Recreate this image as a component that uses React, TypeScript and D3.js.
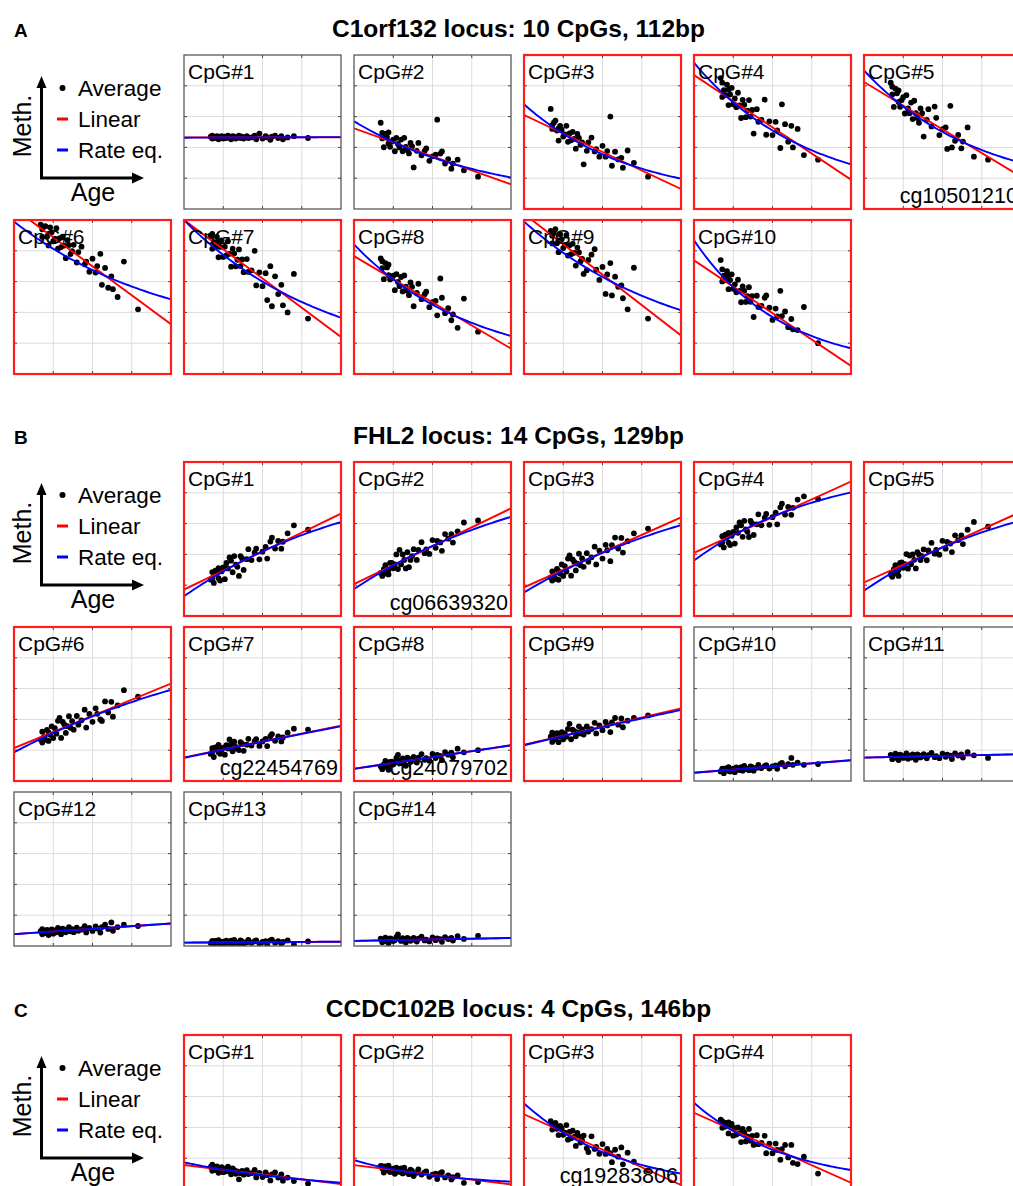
import React from "react";
import * as d3 from "d3";

// ---------- DATA ----------
// sample ages (years), shared by all CpG panels
const ages = [17, 18, 18, 19, 20, 21, 22, 22, 23, 24, 25, 26, 27, 28, 29, 30, 31, 32, 33, 34, 35, 36, 37, 38, 40, 41, 43, 45, 46, 48, 50, 52, 53, 55, 56, 58, 60, 62, 63, 66, 70, 79];
const xTicks = [25, 50, 75];
const yTicks = [0.2, 0.4, 0.6, 0.8];

// Section A: C1orf132
const methA1 = [.469, .457, .477, .465, .461, .473, .453, .469, .465, .473, .457, .469, .461, .477, .465, .453, .473, .469, .457, .465, .477, .461, .469, .457, .473, .461, .465, .477, .453, .49, .457, .473, .465, .449, .469, .477, .461, .473, .453, .465, .473, .461];
const methA2 = [.56, .494, .458, .401, .487, .466, .426, .498, .404, .437, .451, .375, .462, .422, .400, .451, .375, .462, .404, .382, .361, .429, .407, .27, .378, .429, .349, .378, .393, .313, .342, .353, .58, .360, .374, .295, .324, .262, .295, .320, .251, .21];
const methA3 = [.65, .544, .52, .56, .574, .509, .524, .444, .540, .515, .470, .485, .540, .436, .491, .446, .501, .456, .392, .487, .462, .417, .432, .29, .378, .433, .464, .374, .389, .340, .410, .340, .376, .60, .281, .372, .322, .332, .268, .38, .30, .21];
const methA4 = [.85, .728, .82, .771, .739, .807, .675, .775, .744, .787, .680, .718, .661, .755, .673, .591, .709, .677, .596, .639, .707, .600, .643, .49, .648, .566, .578, .71, .482, .569, .480, .566, .510, .396, .68, .551, .437, .54, .40, .52, .35, .32];
const methA5 = [.82, .794, .744, .663, .782, .751, .695, .77, .664, .707, .726, .620, .739, .653, .622, .691, .584, .703, .622, .591, .560, .654, .622, .47, .579, .648, .536, .665, .592, .480, .518, .530, .39, .67, .40, .443, .481, .394, .438, .53, .34, .32];
const methA6 = [.97, .940, .890, .957, .96, .892, .910, .835, .952, .920, .862, .879, .947, .814, .882, .824, .892, .834, .752, .869, .837, .779, .797, .839, .724, .792, .827, .712, .729, .664, .749, .659, .701, .78, .579, .689, .56, .634, .551, .50, .73, .42];
const methA7 = [.896, .813, .91, .856, .823, .890, .758, .858, .825, .868, .760, .827, .770, .862, .780, .697, .814, .782, .699, .742, .809, .701, .744, .661, .746, .663, .673, .80, .575, .660, .570, .655, .48, .70, .44, .634, .519, .579, .446, .40, .65, .36];
const methA8 = [.75, .732, .688, .616, .720, .692, .642, .71, .614, .622, .638, .544, .648, .598, .570, .630, .536, .640, .568, .540, .512, .594, .566, .44, .526, .586, .486, .518, .534, .434, .466, .475, .381, .62, .495, .395, .427, .349, .387, .30, .49, .275];
const methA9 = [.93, .898, .848, .915, .94, .849, .866, .791, .908, .875, .818, .835, .902, .769, .836, .778, .845, .787, .704, .821, .789, .731, .748, .65, .674, .741, .775, .81, .677, .611, .695, .52, .646, .72, .51, .632, .566, .575, .492, .42, .69, .36];
const methA10 = [.74, .601, .68, .638, .609, .668, .551, .639, .610, .647, .553, .582, .531, .612, .539, .466, .569, .540, .468, .505, .564, .469, .506, .37, .508, .435, .443, .495, .51, .431, .351, .425, .374, .54, .376, .406, .304, .357, .29, .285, .435, .20];
// linear fit: value at age 0 and age 100
const linA = [[.465, .465], [.524, .16], [.61, .13], [.87, .19], [.825, .21], [1.075, .323], [1.0, .24], [.766, .165], [1.04, .25], [.738, .052]];
// rate equation fit: value at age 0, 50 and 100
const rateA = [[.463, .465, .467], [.57, .335, .205], [.68, .355, .197], [.95, .51, .29], [.9, .50, .30], [.99, .675, .485], [1.0, .60, .366], [.842, .45, .247], [.99, .63, .414], [.868, .37, .167]];
const sigA = [false, false, true, true, true, true, true, true, true, true];

// Section B: FHL2
const methB1 = [.236, .285, .245, .215, .295, .280, .245, .31, .230, .290, .315, .239, .344, .309, .38, .359, .284, .389, .334, .319, .26, .389, .374, .299, .369, .434, .363, .413, .438, .368, .418, .448, .373, .483, .508, .438, .487, .437, .482, .537, .589, .56];
const methB2 = [.28, .281, .26, .305, .33, .275, .300, .27, .345, .345, .310, .335, .400, .305, .43, .335, .400, .364, .309, .414, .317, .364, .389, .434, .364, .429, .479, .408, .433, .403, .493, .443, .488, .478, .423, .532, .502, .532, .477, .55, .607, .62];
const methB3 = [.25, .23, .29, .257, .242, .306, .235, .291, .275, .335, .260, .324, .289, .373, .393, .262, .367, .351, .296, .340, .405, .329, .374, .319, .408, .352, .381, .450, .335, .424, .373, .462, .427, .356, .460, .509, .438, .507, .412, .486, .537, .568];
const methB4 = [.465, .518, .478, .445, .528, .512, .477, .54, .461, .521, .546, .470, .575, .540, .607, .589, .514, .618, .563, .547, .513, .617, .601, .526, .595, .660, .589, .638, .663, .592, .642, .671, .595, .705, .729, .659, .708, .657, .702, .756, .777, .76];
const methB5 = [.269, .281, .255, .305, .33, .274, .299, .26, .344, .348, .313, .337, .402, .307, .393, .336, .400, .365, .309, .414, .399, .363, .388, .432, .362, .426, .475, .405, .429, .398, .488, .437, .481, .470, .415, .524, .493, .523, .467, .56, .611, .58];
const methB6 = [.27, .25, .32, .284, .268, .332, .26, .316, .300, .355, .279, .343, .307, .391, .41, .280, .384, .368, .312, .356, .421, .345, .389, .333, .422, .366, .394, .463, .347, .435, .384, .472, .436, .40, .39, .517, .445, .514, .418, .491, .59, .548];
const methB7 = [.176, .214, .190, .156, .218, .208, .187, .235, .177, .203, .217, .171, .233, .211, .27, .239, .193, .255, .221, .211, .201, .252, .242, .196, .236, .274, .230, .258, .272, .228, .257, .273, .227, .291, .305, .261, .289, .257, .283, .314, .34, .334];
const methB8 = [.095, .097, .077, .108, .130, .091, .103, .073, .124, .126, .107, .119, .150, .17, .133, .115, .146, .128, .099, .151, .143, .124, .136, .157, .120, .152, .175, .138, .149, .132, .176, .149, .170, .163, .135, .188, .171, .184, .155, .21, .186, .200];
const methB9 = [.288, .254, .314, .281, .271, .310, .252, .300, .290, .317, .271, .309, .288, .338, .371, .271, .333, .324, .290, .316, .355, .309, .335, .302, .354, .321, .337, .378, .309, .361, .330, .383, .361, .318, .380, .409, .366, .406, .349, .392, .41, .426];
const methB10 = [.062, .081, .069, .051, .082, .077, .066, .090, .061, .073, .080, .057, .088, .077, .071, .090, .067, .098, .081, .076, .070, .095, .090, .067, .086, .105, .083, .096, .103, .081, .095, .102, .079, .111, .117, .095, .109, .15, .105, .119, .105, .11];
const methB11 = [.170, .156, .142, .163, .177, .150, .157, .136, .171, .164, .150, .158, .179, .144, .165, .152, .173, .159, .138, .173, .167, .153, .161, .175, .147, .168, .182, .155, .162, .148, .177, .157, .171, .164, .143, .179, .165, .173, .152, .187, .167, .15];
const methB12 = [.096, .076, .110, .090, .084, .105, .071, .099, .093, .107, .080, .102, .089, .117, .097, .077, .112, .106, .089, .100, .122, .095, .109, .090, .119, .099, .107, .129, .088, .117, .098, .127, .113, .087, .123, .138, .111, .153, .099, .123, .139, .13];
const methB13 = [.019, .033, .023, .009, .033, .028, .019, .038, .014, .024, .029, .010, .034, .024, .020, .035, .015, .040, .025, .020, .015, .036, .030, .011, .025, .040, .021, .031, .036, .016, .026, .031, .011, .036, .041, .021, .031, .016, .026, .036, .011, .03];
const methB14 = [.048, .036, .024, .042, .055, .031, .037, .019, .050, .044, .032, .038, .057, .075, .045, .033, .051, .039, .022, .052, .046, .034, .040, .053, .029, .047, .060, .036, .042, .030, .056, .038, .050, .044, .027, .057, .045, .052, .035, .064, .046, .066];
const linB = [[.171, .665], [.207, .699], [.186, .64], [.41, .873], [.218, .677], [.214, .633], [.153, .36], [.079, .232], [.236, .472], [.054, .135], [.152, .174], [.077, .146], [.022, .028], [.033, .052]];
const rateB = [[.128, .42, .61], [.175, .455, .644], [.153, .41, .59], [.36, .645, .803], [.164, .445, .62], [.186, .42, .592], [.15, .255, .355], [.079, .155, .232], [.232, .35, .461], [.054, .0945, .135], [.152, .163, .174], [.077, .1115, .146], [.022, .025, .028], [.033, .0425, .052]];
const sigB = [true, true, true, true, true, true, true, true, true, false, false, false, false, false];

// Section C: CCDC102B
const methC1 = [.143, .118, .158, .132, .123, .146, .105, .137, .127, .142, .109, .132, .115, .145, .120, .095, .134, .123, .099, .114, .063, .103, .118, .093, .122, .097, .103, .124, .075, .104, .078, .108, .090, .056, .095, .108, .074, .095, .054, .074, .052, .035];
const methC2 = [.15, .149, .133, .107, .146, .137, .120, .152, .110, .125, .132, .099, .138, .120, .111, .134, .101, .139, .114, .105, .096, .126, .117, .084, .105, .128, .094, .107, .114, .079, .093, .099, .065, .103, .110, .075, .089, .062, .077, .089, .04, .045];
const methC3 = [.44, .422, .386, .42, .43, .391, .404, .350, .41, .393, .352, .366, .415, .320, .370, .329, .379, .338, .280, .365, .342, .302, .315, .347, .265, .24, .342, .260, .274, .229, .292, .228, .260, .233, .174, .255, .210, .27, .160, .236, .177, .12];
const methC4 = [.45, .397, .44, .429, .406, .43, .361, .433, .411, .422, .346, .395, .354, .40, .363, .305, .390, .368, .309, .341, .390, .314, .345, .286, .349, .291, .300, .345, .232, .295, .232, .295, .254, .19, .259, .286, .205, .286, .17, .162, .21, .10];
const linC = [[.156, .032], [.155, .03], [.485, .026], [.495, .041]];
const rateC = [[.173, .09, .041], [.188, .088, .048], [.556, .24, .10], [.56, .255, .123]];
const sigC = [true, true, true, true];

const cgLabelsA: Record<number, string> = { 4: "cg10501210" };
const cgLabelsB: Record<number, string> = { 1: "cg06639320", 6: "cg22454769", 7: "cg24079702" };
const cgLabelsC: Record<number, string> = { 2: "cg19283806" };

const titles = ["C1orf132 locus: 10 CpGs, 112bp", "FHL2 locus: 14 CpGs, 129bp", "CCDC102B locus: 4 CpGs, 146bp"];
const letters = ["A", "B", "C"];
const legendItems = ["Average", "Linear", "Rate eq."];

// ---------- LAYOUT ----------
const W = 1013, H = 1186;
const PW = 157, PH = 154;
const COL0 = 14, COLSTEP = 170, ROWSTEP = 165;
const SECTION_TOPS = [55, 462, 1035];
const RED = "#ff0000", BLUE = "#0000ff", BORDER_RED = "#ff1c1c", BORDER_GRAY = "#5a5a5a";
const FONT = "'Liberation Sans', Arial, Helvetica, sans-serif";

function rateCurve(p: number[]) {
  const [v0, v1, v2] = p;
  const d1 = v1 - v0, d2 = v2 - v1;
  if (Math.abs(d1) < 1e-9 || Math.abs(d2 / d1 - 1) < 0.02) {
    return (t: number) => v0 + (v2 - v0) * t / 100;
  }
  const r = d2 / d1;
  const b = d1 / (r - 1);
  const a = v0 - b;
  return (t: number) => a + b * Math.pow(r, t / 50);
}

type PanelProps = {
  id: string; label: string; vals: number[]; lin: number[]; rate: number[];
  sig: boolean; cg?: string; x0: number; y0: number;
};

function Panel({ id, label, vals, lin, rate, sig, cg, x0, y0 }: PanelProps) {
  const x = d3.scaleLinear().domain([0, 100]).range([x0, x0 + PW]);
  const y = d3.scaleLinear().domain([0, 1]).range([y0 + PH, y0]);
  const f = rateCurve(rate);
  const line = d3.line<[number, number]>().x(d => x(d[0])).y(d => y(d[1]));
  const redPath = line([[0, lin[0]], [100, lin[1]]]) || "";
  const bluePts: [number, number][] = d3.range(0, 100.001, 2).map(t => [t, f(t)] as [number, number]);
  const bluePath = line(bluePts) || "";
  const clipId = `clip-${id}`;
  return (
    <g>
      <defs>
        <clipPath id={clipId}>
          <rect x={x0} y={y0} width={PW} height={PH} />
        </clipPath>
      </defs>
      <rect x={x0} y={y0} width={PW} height={PH} fill="#fff" />
      {xTicks.map(t => (
        <line key={"gx" + t} x1={x(t)} x2={x(t)} y1={y0} y2={y0 + PH} stroke="#dcdcdc" strokeWidth={1} />
      ))}
      {yTicks.map(t => (
        <line key={"gy" + t} x1={x0} x2={x0 + PW} y1={y(t)} y2={y(t)} stroke="#dcdcdc" strokeWidth={1} />
      ))}
      {xTicks.map(t => (
        <g key={"tx" + t}>
          <line x1={x(t)} x2={x(t)} y1={y0 + PH} y2={y0 + PH - 3} stroke="#444" strokeWidth={1} />
          <line x1={x(t)} x2={x(t)} y1={y0} y2={y0 + 3} stroke="#444" strokeWidth={1} />
        </g>
      ))}
      {yTicks.map(t => (
        <g key={"ty" + t}>
          <line x1={x0} x2={x0 + 3} y1={y(t)} y2={y(t)} stroke="#444" strokeWidth={1} />
          <line x1={x0 + PW} x2={x0 + PW - 3} y1={y(t)} y2={y(t)} stroke="#444" strokeWidth={1} />
        </g>
      ))}
      <g clipPath={`url(#${clipId})`}>
        {vals.map((v, i) => (
          <circle key={i} cx={x(ages[i])} cy={y(v)} r={2.9} fill="#000" />
        ))}
        <path d={redPath} fill="none" stroke={RED} strokeWidth={1.9} />
        <path d={bluePath} fill="none" stroke={BLUE} strokeWidth={1.9} />
      </g>
      <rect x={x0} y={y0} width={PW} height={PH} fill="none"
        stroke={sig ? BORDER_RED : BORDER_GRAY} strokeWidth={sig ? 2.2 : 1.3} />
      <text x={x0 + 4} y={y0 + 24} fontFamily={FONT} fontSize={21} fill="#000">{label}</text>
      {cg && (
        <text x={x0 + PW - 3} y={y0 + PH - 6} fontFamily={FONT} fontSize={21.5} fill="#000" textAnchor="end">{cg}</text>
      )}
    </g>
  );
}

function Legend({ top }: { top: number }) {
  const ax = 41.5, ayTop = top + 21, ayBot = top + 123, axRight = 144;
  const itemY = [top + 33, top + 64, top + 95];
  return (
    <g>
      <line x1={ax} x2={ax} y1={ayBot} y2={ayTop + 10} stroke="#000" strokeWidth={3} />
      <polygon points={`${ax},${ayTop} ${ax - 5},${ayTop + 12} ${ax + 5},${ayTop + 12}`} fill="#000" />
      <line x1={ax - 1.5} x2={axRight - 10} y1={ayBot} y2={ayBot} stroke="#000" strokeWidth={3} />
      <polygon points={`${axRight},${ayBot} ${axRight - 12},${ayBot - 5.5} ${axRight - 12},${ayBot + 5.5}`} fill="#000" />
      <text transform={`translate(31,${top + 71}) rotate(-90)`} textAnchor="middle" fontFamily={FONT} fontSize={25}>Meth.</text>
      <text x={93} y={top + 146} textAnchor="middle" fontFamily={FONT} fontSize={25}>Age</text>
      <circle cx={62.5} cy={itemY[0]} r={3} fill="#000" />
      <line x1={57} x2={68} y1={itemY[1]} y2={itemY[1]} stroke={RED} strokeWidth={3} />
      <line x1={57} x2={68} y1={itemY[2]} y2={itemY[2]} stroke={BLUE} strokeWidth={3} />
      {legendItems.map((s, i) => (
        <text key={s} x={78} y={itemY[i] + 8} fontFamily={FONT} fontSize={22.5}>{s}</text>
      ))}
    </g>
  );
}

export default function App() {
  const methA = [methA1, methA2, methA3, methA4, methA5, methA6, methA7, methA8, methA9, methA10];
  const methB = [methB1, methB2, methB3, methB4, methB5, methB6, methB7, methB8, methB9, methB10, methB11, methB12, methB13, methB14];
  const methC = [methC1, methC2, methC3, methC4];

  const posA = (i: number) => (i < 5 ? [0, i + 1] : [1, i - 5]);
  const posB = (i: number) => (i < 5 ? [0, i + 1] : i < 11 ? [1, i - 5] : [2, i - 11]);
  const posC = (i: number) => [0, i + 1];

  const sections = [
    { meth: methA, lin: linA, rate: rateA, sig: sigA, cg: cgLabelsA, pos: posA },
    { meth: methB, lin: linB, rate: rateB, sig: sigB, cg: cgLabelsB, pos: posB },
    { meth: methC, lin: linC, rate: rateC, sig: sigC, cg: cgLabelsC, pos: posC },
  ];

  return (
    <svg width={W} height={H} viewBox={`0 0 ${W} ${H}`}
      style={{ position: "absolute", left: 0, top: 0, display: "block", background: "#fff", overflow: "hidden" }}>
      <rect x={0} y={0} width={W} height={H} fill="#fff" />
      {sections.map((s, si) => {
        const top = SECTION_TOPS[si];
        return (
          <g key={si}>
            <text x={14} y={top - 18} fontFamily={FONT} fontWeight="bold" fontSize={19}>{letters[si]}</text>
            <text x={518.5} y={top - 18} textAnchor="middle" fontFamily={FONT} fontWeight="bold" fontSize={24.5}>{titles[si]}</text>
            <Legend top={top} />
            {s.meth.map((vals, i) => {
              const [row, col] = s.pos(i);
              return (
                <Panel key={i} id={`${si}-${i}`} label={`CpG#${i + 1}`} vals={vals}
                  lin={s.lin[i]} rate={s.rate[i]} sig={s.sig[i]} cg={s.cg[i]}
                  x0={COL0 + col * COLSTEP} y0={top + row * ROWSTEP} />
              );
            })}
          </g>
        );
      })}
    </svg>
  );
}
